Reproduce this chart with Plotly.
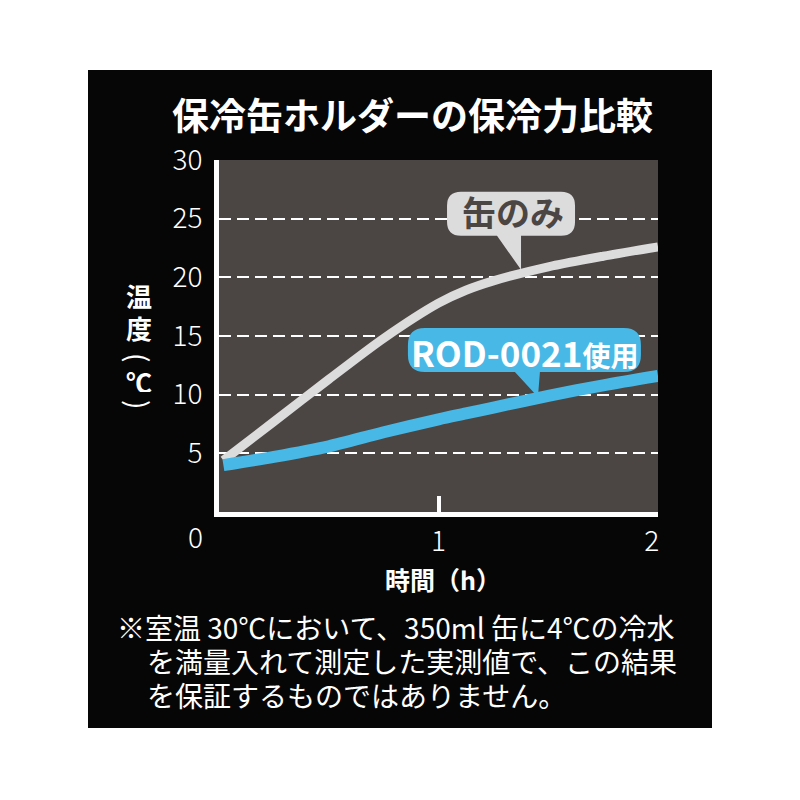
import numpy as np
import plotly.graph_objects as go

# ---------------- data ----------------
hours = [0.02, 0.25, 0.5, 0.75, 1.0, 1.125, 1.25, 1.5, 1.75, 2.0]
can_only = [4.4, 7.7, 11.3, 14.8, 17.8, 18.9, 19.7, 20.9, 21.8, 22.6]
rod_0021 = [4.0, 4.7, 5.6, 6.8, 7.9, 8.4, 8.9, 9.9, 10.8, 11.6]
series_names = ["缶のみ", "ROD-0021使用"]
y_ticks = [5, 10, 15, 20, 25, 30]
x_ticks = [1, 2]
x_tick_text = ["1", "2&nbsp;&nbsp;"]
title_text = "保冷缶ホルダーの保冷力比較"
x_title = "時間（h）"
y_title_chars = ["温", "度", "(", "℃", ")"]
note_lines = [
    "※室温 30℃において、350ml 缶に4℃の冷水",
    "を満量入れて測定した実測値で、この結果",
    "を保証するものではありません。",
]
callout_hours = [1.376, 1.453]

# ---------------- style ----------------
W = H = 800
OFF = 8  # page body margin of the html output
L, R, T, B = 219, 658, 160, 512
FONT = "Noto Sans CJK JP"
GRAY_LINE = "#dcdcdc"
BLUE = "#48b8e6"
PLOT_BG = "#4b4643"
BLACK = "#060606"


def px_x(px):
    return (px - L) / (R - L)


def px_y(py):
    return (B - py) / (B - T)


def bubble_path(left, right, top, bottom, base0, base1, tip, r):
    tx, ty = tip
    return (
        f"M {left + r},{top} L {right - r},{top} Q {right},{top} {right},{top - r} "
        f"L {right},{bottom + r} Q {right},{bottom} {right - r},{bottom} "
        f"L {base1},{bottom} L {tx},{ty} L {base0},{bottom} "
        f"L {left + r},{bottom} Q {left},{bottom} {left},{bottom + r} "
        f"L {left},{top - r} Q {left},{top} {left + r},{top} Z"
    )


fig = go.Figure()
fig.add_trace(go.Scatter(x=hours, y=can_only, mode="lines", name=series_names[0],
                         line=dict(color=GRAY_LINE, width=9, shape="spline", smoothing=0.8),
                         hoverinfo="skip"))
fig.add_trace(go.Scatter(x=hours, y=rod_0021, mode="lines", name=series_names[1],
                         line=dict(color=BLUE, width=12, shape="spline", smoothing=0.8),
                         hoverinfo="skip"))

shapes = [
    dict(type="rect", xref="paper", yref="paper", x0=px_x(88), x1=px_x(712),
         y0=px_y(728), y1=px_y(70), fillcolor=BLACK, line=dict(width=0), layer="below"),
    dict(type="rect", xref="paper", yref="paper", x0=0, x1=1, y0=0, y1=1,
         fillcolor=PLOT_BG, line=dict(width=0), layer="below"),
]

# callouts anchored on the curves
a1y = float(np.interp(callout_hours[0], hours, can_only))
a2y = float(np.interp(callout_hours[1], hours, rod_0021))
shapes.append(dict(type="path", xref="x", yref="y", xsizemode="pixel", ysizemode="pixel",
                   xanchor=callout_hours[0], yanchor=a1y,
                   path=bubble_path(-74, 54, 82, 38, -24, 0, (0, 4), 14),
                   fillcolor=GRAY_LINE, line=dict(width=0), layer="between"))
shapes.append(dict(type="path", xref="x", yref="y", xsizemode="pixel", ysizemode="pixel",
                   xanchor=callout_hours[1], yanchor=a2y,
                   path=bubble_path(-130, 103, 70, 26, -23, 2, (0, 1), 17),
                   fillcolor=BLUE, line=dict(width=0), layer="between"))

annotations = [
    dict(text=series_names[0], x=callout_hours[0], y=a1y, xref="x", yref="y",
         xshift=-8, yshift=62, showarrow=False, xanchor="center", yanchor="middle",
         font=dict(family=FONT, size=34, color=PLOT_BG, weight="bold")),
    dict(text='ROD-0021<span style="font-size:28px">使用</span>', x=callout_hours[1], y=a2y,
         xref="x", yref="y", xshift=-13, yshift=47, showarrow=False,
         xanchor="center", yanchor="middle",
         font=dict(family=FONT, size=35, color="white", weight="bold")),
    dict(text=title_text, x=px_x(412), y=px_y(114), xref="paper", yref="paper",
         showarrow=False, xanchor="center", yanchor="middle",
         font=dict(family=FONT, size=37, color="white", weight="bold")),
    dict(text="0", x=px_x(195), y=px_y(536), xref="paper", yref="paper",
         showarrow=False, xanchor="center", yanchor="middle",
         font=dict(family=FONT, size=28, color="white", weight=300)),
    dict(text=x_title, x=px_x(443), y=px_y(579), xref="paper", yref="paper",
         showarrow=False, xanchor="center", yanchor="middle",
         font=dict(family=FONT, size=25, color="white", weight="bold")),
]
for ch, cy, ang, sz, hh in zip(y_title_chars, [295, 327, 357, 381, 404],
                               [0, 0, 90, 0, 90], [26, 26, 28, 26, 28],
                               [30, 30, 12, 22, 12]):
    annotations.append(dict(text=ch, x=px_x(139), y=px_y(cy), xref="paper", yref="paper",
                            showarrow=False, xanchor="center", yanchor="middle",
                            textangle=ang, borderpad=0, height=hh if ang == 0 else None,
                            font=dict(family=FONT, size=sz, color="white",
                                      weight="bold" if ang == 0 else "normal")))
for line, lx, ly in zip(note_lines, [116, 146, 146], [627, 661, 695]):
    annotations.append(dict(text=line, x=px_x(lx), y=px_y(ly), xref="paper", yref="paper",
                            showarrow=False, xanchor="left", yanchor="middle",
                            height=32, borderpad=0,
                            font=dict(family=FONT, size=28, color="white")))

fig.update_layout(
    width=W, height=H,
    margin=dict(l=L - OFF, r=W - R + OFF, t=T - OFF, b=H - B + OFF, pad=0),
    paper_bgcolor="white",
    plot_bgcolor="rgba(0,0,0,0)",
    showlegend=False,
    shapes=shapes,
    annotations=annotations,
    xaxis=dict(range=[0, 2], tickvals=x_ticks, ticktext=x_tick_text,
               showgrid=False, zeroline=False,
               showline=True, linecolor="white", linewidth=5,
               ticks="inside", ticklen=16, tickwidth=4, tickcolor="white",
               ticklabelstandoff=0,
               tickfont=dict(family=FONT, size=28, color="white", weight=300),
               fixedrange=True),
    yaxis=dict(range=[0, 30], tickvals=y_ticks, showgrid=True, gridcolor="white",
               gridwidth=2, griddash="12px,6px", zeroline=False,
               showline=True, linecolor="white", linewidth=5, ticks="",
               ticklabelstandoff=6,
               tickfont=dict(family=FONT, size=28, color="white", weight=300),
               fixedrange=True),
)

fig.write_html("out.html", config={"displayModeBar": False})
